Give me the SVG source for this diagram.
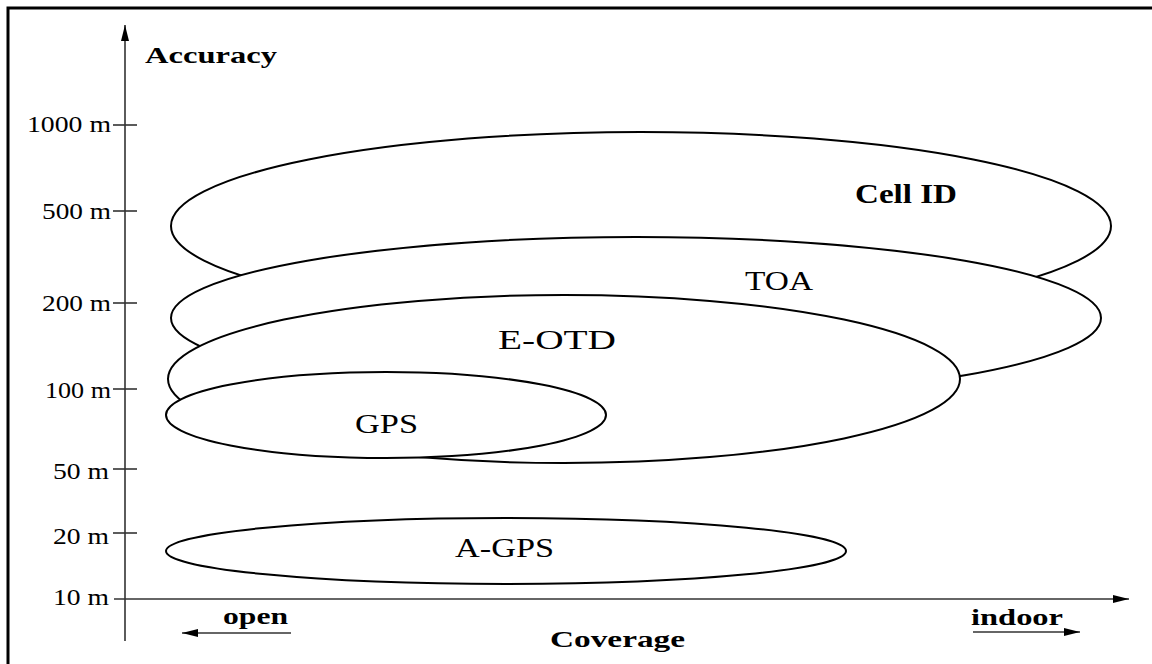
<svg xmlns="http://www.w3.org/2000/svg" width="1152" height="664" viewBox="0 0 1152 664">
  <style>
    .frame { fill: none; stroke: #000; stroke-width: 3; }
    .axis { stroke: #333; stroke-width: 1.6; fill: none; }
    .zone { fill: #fff; stroke: #000; stroke-width: 2; }
    .tick-label { font-family: "Liberation Serif", "Times New Roman", serif; font-size: 23px; fill: #000; text-anchor: end; }
    .title { font-family: "Liberation Serif", "Times New Roman", serif; font-size: 24px; font-weight: bold; fill: #000; }
    .zone-label { font-family: "Liberation Serif", "Times New Roman", serif; font-size: 27px; fill: #000; }
    .bold { font-weight: bold; }
  </style>
  <defs>
    <marker id="arrow" viewBox="0 0 16 8" refX="16" refY="4" markerWidth="16" markerHeight="8" markerUnits="userSpaceOnUse" orient="auto">
      <path d="M0,0 L16,4 L0,8 Z" fill="#000"/>
    </marker>
  </defs>

  <rect width="1152" height="664" fill="#fff"/>
  <rect class="frame" x="8" y="8" width="1160" height="670"/>

  <!-- accuracy zones, back to front -->
  <g id="cell-id">
    <ellipse class="zone" cx="641" cy="226" rx="470" ry="94"/>
    <text class="zone-label bold" x="855" y="203" textLength="102" lengthAdjust="spacingAndGlyphs">Cell ID</text>
  </g>
  <g id="toa">
    <ellipse class="zone" cx="636" cy="318" rx="465" ry="81"/>
    <text class="zone-label" x="745" y="290" textLength="68" lengthAdjust="spacingAndGlyphs">TOA</text>
  </g>
  <g id="e-otd">
    <ellipse class="zone" cx="564" cy="379" rx="396" ry="84"/>
    <text class="zone-label" x="498" y="349" textLength="118" lengthAdjust="spacingAndGlyphs">E-OTD</text>
  </g>
  <g id="gps">
    <ellipse class="zone" cx="386" cy="415" rx="220" ry="43"/>
    <text class="zone-label" x="355" y="433" textLength="63" lengthAdjust="spacingAndGlyphs">GPS</text>
  </g>
  <g id="a-gps">
    <ellipse class="zone" cx="506" cy="551" rx="340" ry="33"/>
    <text class="zone-label" x="455" y="557" textLength="99" lengthAdjust="spacingAndGlyphs">A-GPS</text>
  </g>

  <!-- axes and direction arrows -->
  <g id="connectors">
    <line class="axis" x1="125" y1="641" x2="125" y2="25" marker-end="url(#arrow)"/>
    <line class="axis" x1="114" y1="599" x2="1129" y2="599" marker-end="url(#arrow)"/>
    <line class="axis" x1="291" y1="633" x2="182" y2="633" marker-end="url(#arrow)"/>
    <line class="axis" x1="973" y1="632" x2="1080" y2="632" marker-end="url(#arrow)"/>
  </g>

  <g id="y-ticks">
    <line class="axis" x1="113" y1="125" x2="137" y2="125"/>
    <line class="axis" x1="113" y1="211" x2="137" y2="211"/>
    <line class="axis" x1="113" y1="303" x2="137" y2="303"/>
    <line class="axis" x1="113" y1="389" x2="137" y2="389"/>
    <line class="axis" x1="113" y1="469" x2="137" y2="469"/>
    <line class="axis" x1="113" y1="533" x2="137" y2="533"/>
    <text class="tick-label" x="111" y="132" textLength="84" lengthAdjust="spacingAndGlyphs">1000 m</text>
    <text class="tick-label" x="111" y="219" textLength="69" lengthAdjust="spacingAndGlyphs">500 m</text>
    <text class="tick-label" x="111" y="311" textLength="69" lengthAdjust="spacingAndGlyphs">200 m</text>
    <text class="tick-label" x="111" y="398" textLength="66" lengthAdjust="spacingAndGlyphs">100 m</text>
    <text class="tick-label" x="109" y="479" textLength="56" lengthAdjust="spacingAndGlyphs">50 m</text>
    <text class="tick-label" x="109" y="544" textLength="56" lengthAdjust="spacingAndGlyphs">20 m</text>
    <text class="tick-label" x="109" y="605" textLength="56" lengthAdjust="spacingAndGlyphs">10 m</text>
  </g>

  <g id="axis-titles">
    <text class="title" x="145" y="63" textLength="132" lengthAdjust="spacingAndGlyphs">Accuracy</text>
    <text class="title" x="550" y="647" textLength="135" lengthAdjust="spacingAndGlyphs">Coverage</text>
    <text class="title" x="223" y="624" textLength="65" lengthAdjust="spacingAndGlyphs">open</text>
    <text class="title" x="971" y="625" textLength="92" lengthAdjust="spacingAndGlyphs">indoor</text>
  </g>
</svg>
